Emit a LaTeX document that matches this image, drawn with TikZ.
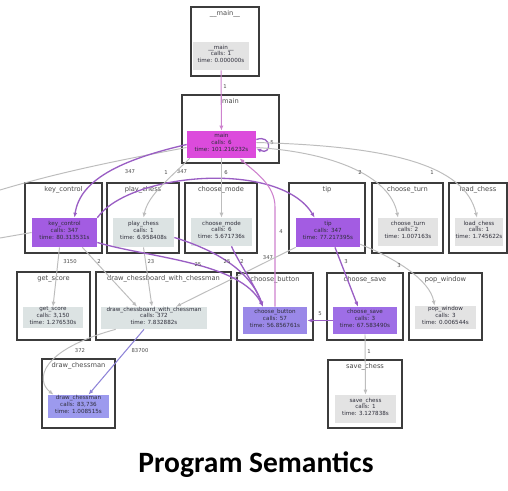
\documentclass[tikz,border=0pt]{standalone}
\usepackage{fontspec}
\setmainfont{DejaVu Sans}
\newfontfamily\headfont{Carlito}
\usetikzlibrary{arrows.meta,fit,calc}

\definecolor{framec}{HTML}{3C3C3C}
\definecolor{ttlc}{HTML}{4A4A4A}
\definecolor{txtc}{HTML}{2E2E3A}
\definecolor{greyA}{HTML}{DCE3E3}
\definecolor{greyB}{HTML}{E3E3E3}
\definecolor{magc}{HTML}{DC4BDC}
\definecolor{purA}{HTML}{A35CE2}
\definecolor{purB}{HTML}{9E6EE6}
\definecolor{lavA}{HTML}{9A88E8}
\definecolor{lavB}{HTML}{9C9AEE}
\definecolor{edgeGrey}{HTML}{BDBDBD}
\definecolor{edgePur}{HTML}{9A5EC4}
\definecolor{edgePink}{HTML}{CE82CE}
\definecolor{edgeLav}{HTML}{8E84D8}

\tikzset{
  frame/.style={draw=framec, line width=0.9pt, inner sep=0pt},
  fn/.style={inner sep=0pt, align=center, text=txtc,
    font=\fontsize{3.2}{3.8}\selectfont},
  ttl/.style={anchor=base, inner sep=0pt, text=ttlc,
    font=\fontsize{3.8}{4.5}\selectfont},
  elab/.style={inner sep=0pt, text=ttlc, font=\fontsize{3}{3.5}\selectfont},
  tipc/.style={-{Latex[length=2.8pt,width=2.3pt]}},
  greyE/.style={draw=edgeGrey, line width=0.55pt, tipc},
  purE/.style={draw=edgePur, line width=0.75pt, tipc},
  pinkE/.style={draw=edgePink, line width=0.6pt, tipc},
  lavE/.style={draw=edgeLav, line width=0.6pt, tipc},
  stub/.style={draw=edgeGrey, line width=0.55pt},
}

\begin{document}
\begin{tikzpicture}[x=0.02cm, y=-0.02cm]
\clip (0,0) rectangle (508,491);
\fill[white] (0,0) rectangle (508,491);

% ---------- call-graph boxes: outer frame, title, inner function box ----------
\node[frame, fit={(191,7) (259,76)}] (mmF) {};
\node[ttl] (mmL) at ([yshift=-5.2pt]mmF.north) {\_\_main\_\_};
\node[fn, fill=greyB, fit={(193,42) (249,70)}] (mm) {\_\_main\_\_\\calls: 1\\time: 0.000000s};

\node[frame, fit={(182,95) (279,163)}] (mnF) {};
\node[ttl] (mnL) at ([yshift=-5.2pt]mnF.north) {main};
\node[fn, fill=magc, fit={(187,131) (256,158)}] (mn) {main\\calls: 6\\time: 101.216232s};

\node[frame, fit={(25,183) (102,253)}] (kcF) {};
\node[ttl] (kcL) at ([yshift=-5.2pt]kcF.north) {key\_control};
\node[fn, fill=purA, fit={(32,218) (97,247)}] (kc) {key\_control\\calls: 347\\time: 80.313531s};

\node[frame, fit={(107,183) (179,253)}] (pcF) {};
\node[ttl] (pcL) at ([yshift=-5.2pt]pcF.north) {play\_chess};
\node[fn, fill=greyA, fit={(113,218) (174,247)}] (pc) {play\_chess\\calls: 1\\time: 6.958408s};

\node[frame, fit={(185,183) (257,253)}] (cmF) {};
\node[ttl] (cmL) at ([yshift=-5.2pt]cmF.north) {choose\_mode};
\node[fn, fill=greyA, fit={(191,218) (252,246)}] (cm) {choose\_mode\\calls: 6\\time: 5.671736s};

\node[frame, fit={(289,183) (365,253)}] (tpF) {};
\node[ttl] (tpL) at ([yshift=-5.2pt]tpF.north) {tip};
\node[fn, fill=purA, fit={(296,218) (360,247)}] (tp) {tip\\calls: 347\\time: 77.217395s};

\node[frame, fit={(372,183) (443,253)}] (ctF) {};
\node[ttl] (ctL) at ([yshift=-5.2pt]ctF.north) {choose\_turn};
\node[fn, fill=greyB, fit={(378,218) (438,246)}] (ct) {choose\_turn\\calls: 2\\time: 1.007163s};

\node[frame, fit={(449,183) (507,253)}] (lcF) {};
\node[ttl] (lcL) at ([yshift=-5.2pt]lcF.north) {load\_chess};
\node[fn, fill=greyB, fit={(455,218) (503,246)}] (lc) {load\_chess\\calls: 1\\time: 1.745622s};

\node[frame, fit={(17,272) (90,340)}] (gsF) {};
\node[ttl] (gsL) at ([yshift=-5.2pt]gsF.north) {get\_score};
\node[fn, fill=greyA, fit={(23,307) (83,328)}] (gs) {get\_score\\calls: 3,150\\time: 1.276530s};

\node[frame, fit={(96,272) (231,340)}] (dwF) {};
\node[ttl] (dwL) at ([yshift=-5.2pt]dwF.north) {draw\_chessboard\_with\_chessman};
\node[fn, fill=greyA, fit={(101,307) (207,329)}] (dw) {draw\_chessboard\_with\_chessman\\calls: 372\\time: 7.832882s};

\node[frame, fit={(237,273) (313,340)}] (cbF) {};
\node[ttl] (cbL) at ([yshift=-5.2pt]cbF.north) {choose\_button};
\node[fn, fill=lavA, fit={(243,307) (307,334)}] (cb) {choose\_button\\calls: 57\\time: 56.856761s};

\node[frame, fit={(327,273) (403,340)}] (csF) {};
\node[ttl] (csL) at ([yshift=-5.2pt]csF.north) {choose\_save};
\node[fn, fill=purB, fit={(333,307) (397,334)}] (cs) {choose\_save\\calls: 3\\time: 67.583490s};

\node[frame, fit={(409,273) (482,340)}] (pwF) {};
\node[ttl] (pwL) at ([yshift=-5.2pt]pwF.north) {pop\_window};
\node[fn, fill=greyB, fit={(415,306) (476,329)}] (pw) {pop\_window\\calls: 3\\time: 0.006544s};

\node[frame, fit={(42,359) (115,428)}] (dcF) {};
\node[ttl] (dcL) at ([yshift=-5.2pt]dcF.north) {draw\_chessman};
\node[fn, fill=lavB, fit={(48,395) (109,418)}] (dc) {draw\_chessman\\calls: 83,736\\time: 1.008515s};

\node[frame, fit={(328,360) (402,428)}] (scF) {};
\node[ttl] (scL) at ([yshift=-5.2pt]scF.north) {save\_chess};
\node[fn, fill=greyB, fit={(335,395) (396,423)}] (sc) {save\_chess\\calls: 1\\time: 3.127838s};

% ---------- edges leaving the visible area ----------
\draw[stub] ($(mn.west)+(0,3)$) .. controls (120,160) and (60,172) .. (0,190);
\draw[stub] (kc.west) -- (0,238);

% ---------- call edges ----------
\draw[pinkE] (mm) -- (mn);
\node[elab] (l1) at (225,87) {1};

\draw[purE] ($(mn.east)+(0,-5)$) .. controls (272,134) and (272,156) .. ($(mn.east)+(0,4)$);
\node[elab] (l2) at (272,143) {5};

\draw[purE] (mn.west) .. controls (120,160) and (80,180) .. ($(kc.north)+(10,0)$);
\node[elab] (l3) at (130,172) {347};

\draw[purE] (kc.north east) .. controls (130,172) and (280,160) .. ($(tp.north west)+(19,0)$);
\node[elab] (l4) at (182,172) {347};

\draw[greyE] ($(mn.south west)+(3,0)$) .. controls (170,178) and (148,195) .. (pc.north);
\node[elab] (l5) at (166,173) {1};

\draw[greyE] (mn.south) -- (cm.north);
\node[elab] (l6) at (226,173) {6};

\draw[greyE] ($(mn.east)+(0,3)$) .. controls (330,152) and (390,175) .. ($(ct.north)+(-10,0)$);
\node[elab] (l7) at (360,173) {2};

\draw[greyE] ($(mn.east)+(0,-2)$) .. controls (390,146) and (465,165) .. ($(lc.north)+(-2,0)$);
\node[elab] (l8) at (432,173) {1};

\draw[pinkE] (cb.north) -- (275,207) .. controls (275,185) and (255,172) .. ($(mn.south)+(18,0)$);
\node[elab] (l9) at (281,232) {4};

\draw[greyE] ($(kc.south)+(-5,0)$) -- (gs.north);
\node[elab] (l10) at (70,262) {3150};

\draw[greyE] ($(kc.south east)+(-15,0)$) -- ($(dw.north)+(-17,0)$);
\node[elab] (l11) at (99,262) {2};

\draw[greyE] (pc.south) -- ($(dw.north)+(-2,0)$);
\node[elab] (l12) at (151,262) {23};

\draw[greyE] (tp.south west) -- ($(dw.north)+(22,0)$);
\node[elab] (l13) at (268,258) {347};

\draw[purE] ($(kc.east)+(0,10)$) .. controls (150,258) and (240,262) .. ($(cb.north)+(-12,0)$);
\node[elab] (l14) at (198,265) {25};

\draw[purE] ($(pc.east)+(0,5)$) .. controls (215,250) and (250,270) .. ($(cb.north)+(-12,0)$);
\node[elab] (l15) at (227,262) {25};

\draw[purE] ($(cm.south)+(10,0)$) .. controls (240,265) and (255,285) .. ($(cb.north)+(-12,0)$);
\node[elab] (l16) at (242,262) {2};

\draw[purE] ($(tp.south)+(7,0)$) -- ($(cs.north)+(-7,0)$);
\node[elab] (l17) at (346,262) {3};

\draw[greyE] ($(tp.south east)+(0,-3)$) .. controls (395,258) and (430,280) .. ($(pw.north)+(-11,0)$);
\node[elab] (l18) at (399,266) {3};

\draw[purE] (cs.west) -- (cb.east);
\node[elab] (l19) at (320,314) {5};

\draw[greyE] (cs.south) -- (sc.north);
\node[elab] (l20) at (369,352) {1};

\draw[greyE] ($(dw.south west)+(15,0)$) .. controls (40,350) and (35,380) .. ($(dc.north)+(-25,0)$);
\node[elab] (l21) at (80,351) {372};

\draw[lavE] ($(dw.south)+(-10,0)$) -- ($(dc.north)+(10,0)$);
\node[elab] (l22) at (140,351) {83700};

% ---------- caption ----------
\node[inner sep=0pt, font=\headfont\bfseries\fontsize{16.8}{20}\selectfont] (cap) at (256,465) {Program Semantics};
\end{tikzpicture}
\end{document}
